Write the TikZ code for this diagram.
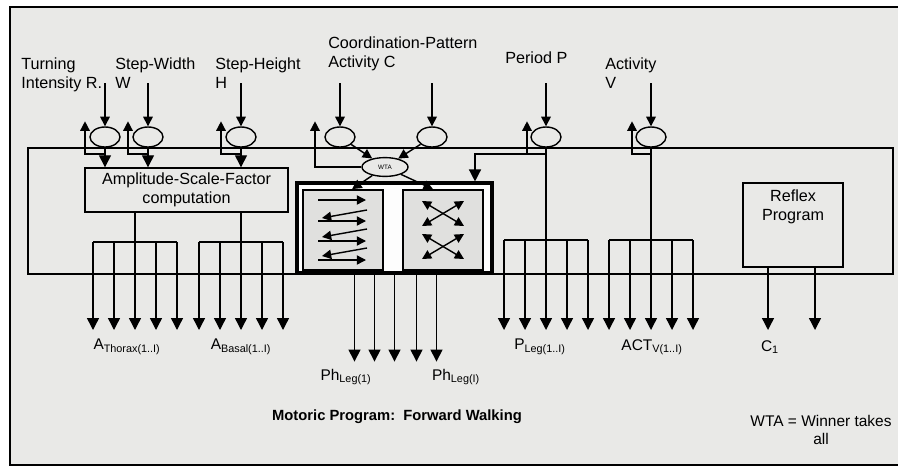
\documentclass[tikz,border=0pt]{standalone}
\usepackage{fontspec}
\setmainfont{Liberation Sans}
\usetikzlibrary{shapes.geometric,arrows.meta,positioning,calc}
\definecolor{paper}{HTML}{E9E9E7}
\definecolor{stipple}{HTML}{E0E0DE}
\tikzset{
    gate/.style={
        ellipse, draw, line width=1pt,
        minimum width=0.75cm, minimum height=0.5cm, inner sep=0pt
    },
    wta/.style={
        ellipse, draw, line width=1pt,
        minimum width=1.15cm, minimum height=0.47cm, inner sep=0pt,
        font=\fontsize{4.5}{5}\selectfont
    },
    block/.style={
        rectangle, draw, line width=1pt, inner sep=0pt,
        align=center, font=\fontsize{11.5}{13.5}\selectfont
    },
    cpgbox/.style={
        rectangle, draw, line width=1.2pt, fill=stipple, inner sep=0pt,
        minimum width=2cm, minimum height=2cm
    },
    inlabel/.style={anchor=north west, inner sep=0pt, align=left,
        font=\fontsize{11.5}{14}\selectfont},
    outlabel/.style={inner sep=0pt, align=center, font=\fontsize{11}{13}\selectfont},
    wire/.style={line width=1pt},
    arrow/.style={-{Triangle[length=3mm,width=3mm]}, line width=1pt},
    inarrow/.style={-{Triangle[length=2.4mm,width=2.4mm]}, line width=1pt},
    smallarrow/.style={-{Triangle[length=2.3mm,width=2.3mm]}, line width=1pt},
    botharrow/.style={{Triangle[length=2.3mm,width=2.3mm]}-{Triangle[length=2.3mm,width=2.3mm]}, line width=1pt}
}

\begin{document}
\begin{tikzpicture}[x=0.025cm, y=-0.025cm]
\useasboundingbox (0,0) rectangle (898,468);
\fill[white] (0,0) rectangle (898,468);
\fill[paper] (10,7) rectangle (898,465);
\draw[line width=1.2pt] (898,7) -- (10,7) -- (10,465) -- (898,465);

% levels
\coordinate (intop) at (0,83);
\coordinate (fb)    at (0,154);
\coordinate (outa)  at (0,330);

% module frame
\coordinate (modnw) at (28,148);
\coordinate (modse) at (893,274);
\draw[wire] (modnw) rectangle (modse);

% gates
\node[gate] (turn)   at (105,137) {};
\node[gate] (width)  at (148,137) {};
\node[gate] (height) at (241,137) {};
\node[gate] (coordA) at (340,137) {};
\node[gate] (coordB) at (432,137) {};
\node[gate] (period) at (546,137) {};
\node[gate] (activ)  at (651,137) {};

% input labels
\node[inlabel] (lturn)   at (21,57)  {Turning\\Intensity R.};
\node[inlabel] (lwidth)  at (115,57) {Step-Width\\W};
\node[inlabel] (lheight) at (215,57) {Step-Height\\H};
\node[inlabel] (lcoord)  at (328,36) {Coordination-Pattern\\Activity C};
\node[inlabel] (lperiod) at (505,51) {Period P};
\node[inlabel] (lactiv)  at (605,57) {Activity\\V};

\foreach \g in {turn,width,height,coordA,coordB,period,activ}
    \draw[inarrow] (\g |- intop) -- (\g);

% amplitude part
\node[block, minimum width=5.07cm, minimum height=1.1cm] (asf) at (186.5,190)
    {Amplitude-Scale-Factor\\computation};
\foreach \g in {turn,width,height} {
    \draw[arrow] (\g) -- (\g |- asf.north);
    \draw[inarrow] (\g |- fb) -| ($(\g.north)+(-20,-5)$);
}
\coordinate (busA) at (135,242);
\coordinate (busB) at (241,242);
\draw[wire] (busA |- asf.south) -- (busA);
\draw[wire] (busB |- asf.south) -- (busB);

% period and activity
\coordinate (busP) at (546,240);
\coordinate (busV) at (651,240);
\draw[wire] (period) -- (busP);
\draw[wire] (activ) -- (busV);
\draw[inarrow] ($(period |- fb)+(-19,0)$) -- ($(period.north)+(-19,-5)$);
\draw[inarrow] (activ |- fb) -| ($(activ.north)+(-19,-5)$);

% buses
\foreach \b in {busA,busB,busP,busV} {
    \draw[wire] ($(\b)+(-42,0)$) -- ($(\b)+(42,0)$);
    \foreach \d in {-42,-21,0,21,42}
        \draw[arrow] ($(\b)+(\d,0)$) -- ($(\b |- outa)+(\d,0)$);
}

% coordination pattern
\node[draw, line width=2.2pt, fill=white!92!paper, minimum width=4.875cm, minimum height=2.25cm,
    inner sep=0pt] (cpg) at (394.5,228) {};
\node[cpgbox] (lbox) at (343,230) {};
\node[cpgbox] (rbox) at (443,230) {};
\node[wta] (wta) at (385,167) {WTA};
\draw[inarrow] (coordA) -- (wta);
\draw[inarrow] (coordB) -- (wta);
\draw[inarrow] (wta) -- ($(lbox.north)+(9,0)$);
\draw[inarrow] (wta) -- ($(rbox.north)+(-10,0)$);
\draw[inarrow] (wta.west) -| ($(coordA.north)+(-25,-5)$);
\draw[arrow] (period |- fb) -| ($(cpg.north)+(80.5,0)$);

% left box: alternating
\foreach \y in {200,221,241,260}
    \draw[smallarrow] (318,\y) -- (366,\y);
\foreach \y in {210,229,248}
    \draw[smallarrow] (367,\y) -- (322,\y+8);
% right box: crossing
\foreach \y in {201,234} {
    \draw[botharrow] (422,\y) -- (464,\y+25);
    \draw[botharrow] (464,\y) -- (422,\y+25);
}

\foreach \d in {-40,-20,0,22,42}
    \draw[arrow] ($(cpg.south)+(\d,0)$) -- ++(0,87);

% reflex
\node[block, minimum width=2.5cm, minimum height=2.1cm] (reflex) at (793,225) {};
\node[block, draw=none, anchor=north] (lreflex) at ([yshift=-5pt]reflex.north) {Reflex\\Program};
\draw[arrow] ($(reflex.south)+(-25,0)$) -- ($(reflex.south |- outa)+(-25,0)$);
\draw[arrow] ($(reflex.south)+(22,0)$) -- ($(reflex.south |- outa)+(22,0)$);

% output labels
\node[outlabel] (lthorax) at (127,347) {A\textsubscript{Thorax(1..I)}};
\node[outlabel] (lbasal)  at (241,347) {A\textsubscript{Basal(1..I)}};
\node[outlabel] (lphA)    at (346,377) {Ph\textsubscript{Leg(1)}};
\node[outlabel] (lphB)    at (456,377) {Ph\textsubscript{Leg(I)}};
\node[outlabel] (lpleg)   at (540,347) {P\textsubscript{Leg(1..I)}};
\node[outlabel] (lact)    at (652,347) {ACT\textsubscript{V(1..I)}};
\node[outlabel] (lc)      at (770,347) {C\textsubscript{1}};

\node[font=\fontsize{10.5}{12}\selectfont\bfseries, inner sep=0pt] (title) at (397,417)
    {Motoric Program:\ \ Forward Walking};
\node[outlabel] (note) at (821,430) {WTA = Winner takes\\all};

\end{tikzpicture}
\end{document}
